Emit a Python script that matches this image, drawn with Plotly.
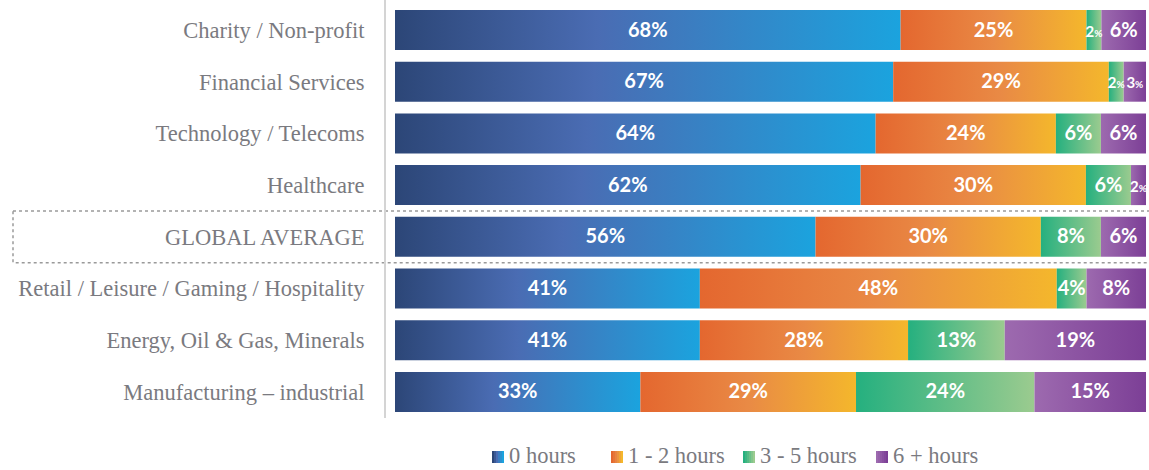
import plotly.graph_objects as go

# ---- data -------------------------------------------------------------
categories = [
    "Charity / Non-profit",
    "Financial Services",
    "Technology / Telecoms",
    "Healthcare",
    "GLOBAL AVERAGE",
    "Retail / Leisure / Gaming / Hospitality",
    "Energy, Oil & Gas, Minerals",
    "Manufacturing – industrial",
]
series_names = ["0 hours", "1 - 2 hours", "3 - 5 hours", "6 + hours"]
zero_hours = [68, 67, 64, 62, 56, 41, 41, 33]
one_two_hours = [25, 29, 24, 30, 30, 48, 28, 29]
three_five_hours = [2, 2, 6, 6, 8, 4, 13, 24]
six_plus_hours = [6, 3, 6, 2, 6, 8, 19, 15]

# ---- styling ----------------------------------------------------------
gradients = [
    [[0, "#2c4677"], [0.4, "#4a6cb3"], [1, "#1ba3de"]],
    [[0, "#e4672f"], [0.5, "#e98a45"], [1, "#f4b72c"]],
    [[0, "#25b07f"], [1, "#9bcb8f"]],
    [[0, "#9d6aaf"], [1, "#7c3f96"]],
]
GRAY = "#7a7a80"
LABEL_FONT = "Liberation Serif"
LABEL_SIZE = 22.5
VALUE_FONT = "Lato"
HALF_BAR = 0.387

series = [zero_hours, one_two_hours, three_five_hours, six_plus_hours]

fig = go.Figure()

text_x, text_y, text_s = [], [], []
for row in range(len(categories)):
    vals = [s[row] for s in series]
    total = sum(vals)
    left = 0.0
    for k, v in enumerate(vals):
        width = v / total * 100.0
        right = left + width
        fig.add_trace(go.Scatter(
            x=[left, right, right, left, left],
            y=[row - HALF_BAR, row - HALF_BAR, row + HALF_BAR, row + HALF_BAR, row - HALF_BAR],
            mode="lines",
            fill="toself",
            fillgradient=dict(type="horizontal", colorscale=gradients[k]),
            line=dict(width=0, color="rgba(0,0,0,0)"),
            hoverinfo="skip",
            showlegend=False,
        ))
        text_x.append((left + right) / 2)
        text_y.append(row + 0.03)
        if v <= 3:
            text_s.append(f"<span style='font-size:15px'>{v}</span>"
                          f"<span style='font-size:10px'>%</span>")
        else:
            text_s.append(f"{v}%")
        left = right

fig.add_trace(go.Scatter(
    x=text_x, y=text_y, text=text_s, mode="text",
    textposition="middle center",
    textfont=dict(family=VALUE_FONT, size=20, color="white", weight="bold"),
    hoverinfo="skip", showlegend=False, cliponaxis=False,
))

# plot area geometry (pixels) used for paper conversions
W, H = 1149, 470
ML, MR, MT, MB = 386, 3, 0, 52
PW, PH = W - ML - MR, H - MT - MB


def px_x(p):
    return (p - ML) / PW


def px_y(p):
    return (H - MB - p) / PH


# dotted frame around the global average row
gi = categories.index("GLOBAL AVERAGE")
fig.add_shape(type="rect", xref="paper", yref="y",
              x0=px_x(13), x1=px_x(1160), y0=gi - 0.5, y1=gi + 0.5,
              line=dict(color="#9a9a9a", width=1.5, dash="dot"),
              layer="below")

# legend: swatches with small gradient strips and labels
legend_left = [492, 611, 743, 876]
sw = 12
for k, name in enumerate(series_names):
    x0 = legend_left[k]
    cs = gradients[k]
    steps = 6
    for j in range(steps):
        t = j / (steps - 1)
        # pick colour from gradient stops
        for a in range(len(cs) - 1):
            if cs[a][0] <= t <= cs[a + 1][0]:
                f = (t - cs[a][0]) / (cs[a + 1][0] - cs[a][0])
                c0 = [int(cs[a][1][i:i + 2], 16) for i in (1, 3, 5)]
                c1 = [int(cs[a + 1][1][i:i + 2], 16) for i in (1, 3, 5)]
                c = [round(c0[i] + (c1[i] - c0[i]) * f) for i in range(3)]
                break
        fig.add_shape(type="rect", xref="paper", yref="paper",
                      x0=px_x(x0 + j * sw / steps), x1=px_x(x0 + (j + 1) * sw / steps),
                      y0=px_y(451), y1=px_y(463),
                      line=dict(width=0),
                      fillcolor=f"rgb({c[0]},{c[1]},{c[2]})")
    fig.add_annotation(xref="paper", yref="paper",
                       x=px_x(x0 + sw + 3), y=px_y(456),
                       xanchor="left", yanchor="middle", showarrow=False,
                       text=name,
                       font=dict(family=LABEL_FONT, size=LABEL_SIZE, color=GRAY))

fig.update_layout(
    width=W, height=H,
    margin=dict(l=ML, r=MR, t=MT, b=MB),
    plot_bgcolor="white", paper_bgcolor="white",
    showlegend=False,
    xaxis=dict(range=[-1.198, 100], visible=False, fixedrange=True),
    yaxis=dict(
        range=[7.505, -0.58],
        tickvals=list(range(len(categories))),
        ticktext=categories,
        tickfont=dict(family=LABEL_FONT, size=LABEL_SIZE, color=GRAY),
        ticks="", ticklabelstandoff=15,
        showline=True, linecolor="#d4d4d4", linewidth=2,
        showgrid=False, zeroline=False, fixedrange=True,
    ),
)

fig.write_html("out.html")
